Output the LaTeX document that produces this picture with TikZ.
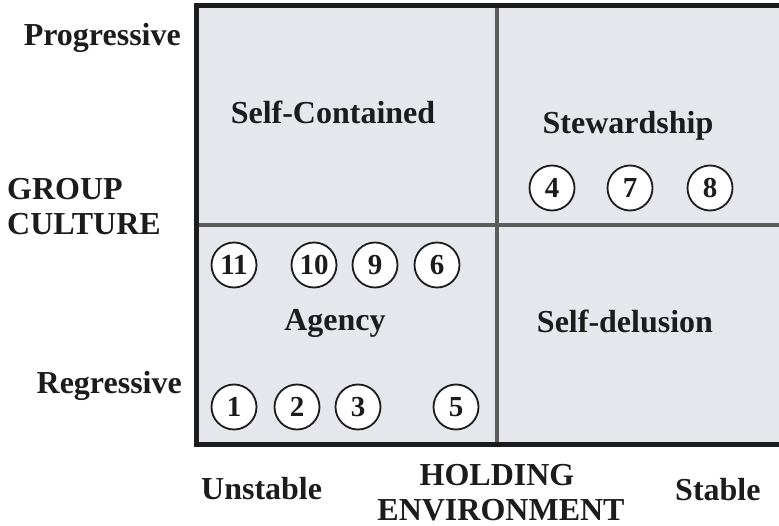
\documentclass[tikz,border=0pt]{standalone}
\usepackage{fontspec}
\setmainfont{Liberation Serif}
\definecolor{cellfill}{HTML}{E5E7EC}
\definecolor{divline}{HTML}{5C5C5C}
\definecolor{ink}{HTML}{1C1C1C}
\begin{document}
\begin{tikzpicture}[x=1pt,y=-1pt]
      \useasboundingbox (0,0) rectangle (779,526);
      \tikzstyle{every node} = [text=ink, inner sep=0pt, font=\fontsize{32}{38}\selectfont\bfseries]
      \tikzstyle{num} = [draw=ink, circle, fill=white, line width=1.8pt, minimum size=45pt, font=\fontsize{29}{29}\selectfont\bfseries]

      % the four cells
      \fill[cellfill] (196,6) rectangle (785,444);
      \draw[divline, line width=4pt] (497,6) -- (497,444);
      \draw[divline, line width=4pt] (196,225) -- (785,225);
      \draw[ink, line width=5pt] (785,6) -- (196,6) -- (196,444) -- (785,444);

      % axis labels
      \node[anchor=base east] (prog) at (181,46) {Progressive};
      \node[anchor=base west] (group) at (7,200) {GROUP};
      \node[anchor=base west] (culture) at (7,235) {CULTURE};
      \node[anchor=base east] (regr) at (182,393) {Regressive};
      \node[anchor=base west] (unst) at (201,499) {Unstable};
      \node[anchor=base] (hold) at (497,485) {HOLDING};
      \node[anchor=base] (env) at (501,520) {ENVIRONMENT};
      \node[anchor=base west] (stab) at (675,500) {Stable};

      % cell names
      \node[anchor=base] (selfc) at (333,124) {Self-Contained};
      \node[anchor=base] (stew) at (628,134) {Stewardship};
      \node[anchor=base] (agency) at (335,331) {Agency};
      \node[anchor=base] (selfd) at (625,333) {Self-delusion};

      % numbered cases
      \node[num] (4) at (552,188) {4};
      \node[num] (7) at (630,188) {7};
      \node[num] (8) at (710,188) {8};
      \node[num] (11) at (234,265) {11};
      \node[num] (10) at (314,265) {10};
      \node[num] (9) at (375,265) {9};
      \node[num] (6) at (437,265) {6};
      \node[num] (1) at (234,407) {1};
      \node[num] (2) at (297,407) {2};
      \node[num] (3) at (358,407) {3};
      \node[num] (5) at (456,407) {5};
    \end{tikzpicture}
\end{document}
